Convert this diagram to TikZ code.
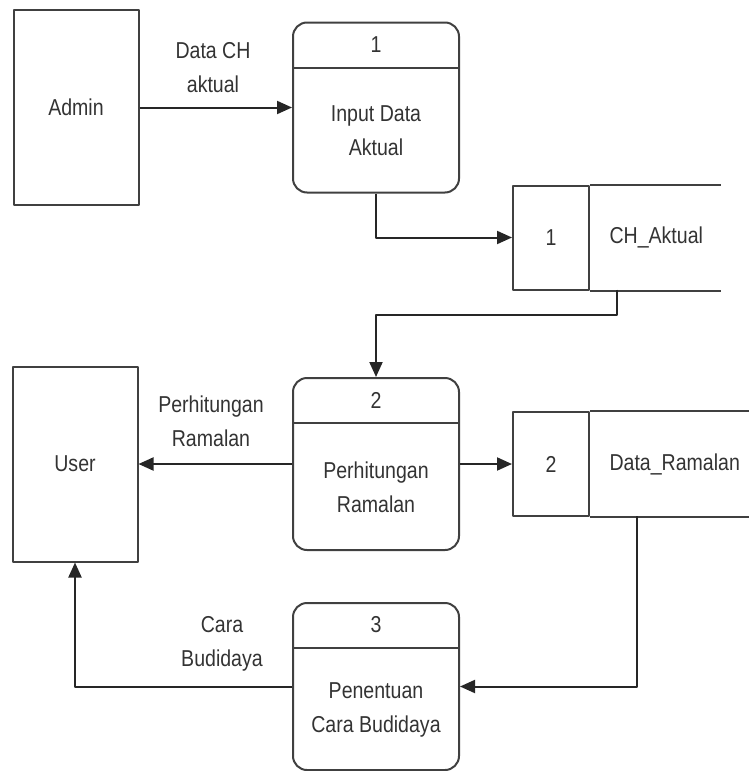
\documentclass[tikz,border=0pt]{standalone}
\usepackage{fontspec}
\setmainfont{Liberation Sans}[FakeStretch=0.85]
\usetikzlibrary{arrows.meta,positioning,calc}
\begin{document}
\begin{tikzpicture}[x=1pt, y=-1pt, line join=round,
		every node/.style={text=black!80, font=\fontsize{23}{34}\selectfont},
		entity/.style={draw=black!75, line width=2pt, minimum width=125pt, minimum height=195pt, inner sep=0pt},
		proc/.style={draw=black!75, line width=2pt, rounded corners=14pt, minimum width=166pt, inner sep=0pt},
		storeid/.style={draw=black!75, line width=2pt, minimum width=76pt, minimum height=104pt, inner sep=0pt},
		flow/.style={draw=black!85, line width=2pt, -{Triangle[length=15pt,width=13pt]}},
		lbl/.style={align=center}]
				\def\dv{46}
				\useasboundingbox (0,0) rectangle (748,771);
				
				\node[entity] (admin) at (76,107.5) {Admin};
				\node[entity] (user) at (75,464) {User};
				
				\node[proc, minimum height=170pt] (p1) at (376,107.5) {};
				\node[proc, minimum height=172pt] (p2) at (376,464) {};
				\node[proc, minimum height=167pt] (p3) at (376,686.5) {};
				\foreach \p/\n in {p1/1, p2/2, p3/3} {
					\draw[black!75, line width=2pt] ([yshift=-\dv pt]\p.north west) -- ([yshift=-\dv pt]\p.north east);
					\node (\p num) at ([yshift=-\dv/2 pt]\p.north) {\n};
				}
				\node[lbl] (p1txt) at ($([yshift=-\dv pt]p1.north)!0.5!(p1.south)$) {Input Data\\Aktual};
				\node[lbl] (p2txt) at ($([yshift=-\dv pt]p2.north)!0.5!(p2.south)$) {Perhitungan\\Ramalan};
				\node[lbl] (p3txt) at ($([yshift=-\dv pt]p3.north)!0.5!(p3.south)$) {Penentuan\\Cara Budidaya};
				
				\node[storeid] (s1) at (551,237.5) {1};
				\node[right=16pt of s1] (s1txt) {CH\_Aktual};
				\draw[black!75, line width=2pt] (s1.north east) -- +(131,0);
				\draw[black!75, line width=2pt] (s1.south east) -- +(131,0);
				\node[storeid] (s2) at (551,464) {2};
				\node[right=16pt of s2] (s2txt) {Data\_Ramalan};
				\draw[black!75, line width=2pt] (s2.north east) -- +(165,0);
				\draw[black!75, line width=2pt] (s2.south east) -- +(165,0);
				\coordinate (s1out) at (617,289.5);
				\coordinate (s2out) at (637,516);
				
				\draw[flow] (admin.east) -- (p1.west);
				\draw[flow] (p1.south) |- (s1.west);
				\draw[flow] (s1out) -- ++(0,25) -| (p2.north);
				\draw[flow] (p2.west) -- (user.east);
				\draw[flow] (p2.east) -- (s2.west);
				\draw[flow] (s2out) |- (p3.east);
				\draw[flow] (p3.west) -| (user.south);
				
				\node[lbl] (f1) at (213,67.5) {Data CH\\aktual};
				\node[lbl] (f2) at (211,421) {Perhitungan\\Ramalan};
				\node[lbl] (f3) at (222,644) {Cara\\Budidaya};
			\end{tikzpicture}
\end{document}
